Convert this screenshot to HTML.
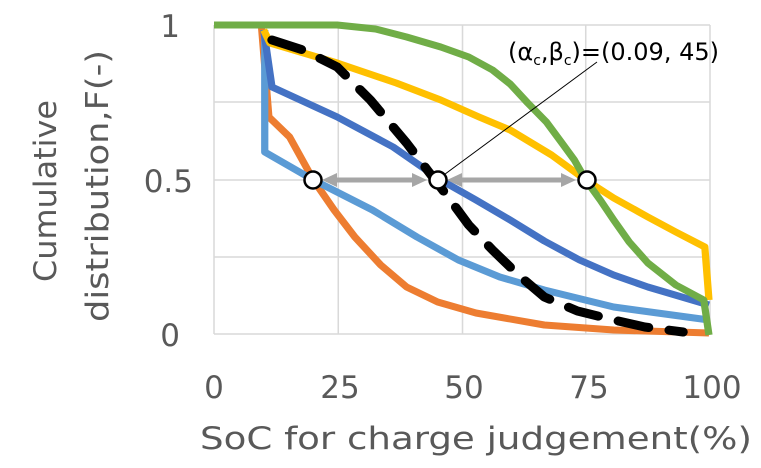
<!DOCTYPE html>
<html><head><style>body{margin:0;background:#fff}svg{display:block}text{font-family:"DejaVu Sans","Liberation Sans",sans-serif;fill:#595959}</style></head><body>
<svg width="761" height="468" viewBox="0 0 761 468">
<g transform="translate(214,0) scale(1.0355,1) translate(-214,0)">
<g stroke="#d9d9d9" stroke-width="1.5" fill="none">
<line x1="214" y1="25" x2="693" y2="25"/><line x1="214" y1="102" x2="693" y2="102"/><line x1="214" y1="180" x2="693" y2="180"/><line x1="214" y1="257" x2="693" y2="257"/><line x1="214" y1="334" x2="693" y2="334"/>
<line x1="214" y1="25" x2="214" y2="334"/><line x1="334" y1="25" x2="334" y2="334"/><line x1="454" y1="25" x2="454" y2="334"/><line x1="573" y1="25" x2="573" y2="334"/><line x1="693" y1="25" x2="693" y2="334"/>
</g>
<g fill="none" stroke-width="7" stroke-linejoin="round">
<polyline stroke="#ED7D31" points="260,28 267,117 287,137 310,180 330,210 350,237 375,265 400,287 430,302 467,313 533,325 600,330 692,333"/>
<polyline stroke="#5B9BD5" points="263,30 263,152 310,180 367,210 410,237 450,260 490,277 533,290 600,307 692,320"/>
<polyline stroke="#4472C4" points="262,30 270,87 333,117 387,147 433,180 467,200 500,220 533,241 567,260 600,275 633,287 692,305"/>
<polyline stroke="#FFC000" points="262,30 268,43 333,63 390,83 433,100 470,117 500,130 540,155 573,180 600,198 633,217 660,232 688,247 692,300"/>
<polyline stroke="#70AD47" points="214,25 333,25 370,29 400,37 433,47 460,57 483,70 500,84 517,103 535,122 550,143 562,160 573,180 587,200 600,220 615,242 633,263 660,285 687,300 692,335"/>
<polyline stroke="#000" stroke-width="9" stroke-dasharray="30,20" stroke-linecap="round" points="270,40 300,50 333,67 365,100 400,143 420,170 440,197 460,225 483,250 508,275 533,297 565,311 600,320 630,327 667,332"/>
</g>
</g>
<g stroke="#a6a6a6" stroke-width="5">
<line x1="332" y1="180" x2="416" y2="180"/><line x1="458" y1="180" x2="565" y2="180"/>
</g>
<g fill="#a6a6a6">
<polygon points="322,180 337,173 337,187"/><polygon points="427,180 412,173 412,187"/>
<polygon points="447,180 462,173 462,187"/><polygon points="576,180 561,173 561,187"/>
</g>
<line x1="437" y1="180" x2="597" y2="62" stroke="#000" stroke-width="1"/>
<g fill="#fff" stroke="#000" stroke-width="2.5">
<circle cx="313" cy="180" r="8.5"/><circle cx="438" cy="180" r="8.5"/><circle cx="587" cy="180" r="8.5"/>
</g>
<text x="508" y="60" font-size="24" style="fill:#000">(α<tspan font-size="14" dy="5">c</tspan><tspan dy="-5">,β</tspan><tspan font-size="14" dy="5">c</tspan><tspan dy="-5">)=(0.09, 45)</tspan></text>
<g font-size="31" text-anchor="end">
<text x="180" y="37">1</text><text x="193" y="192">0.5</text><text x="180" y="346">0</text>
</g>
<g font-size="31" text-anchor="middle">
<text x="214" y="398">0</text><text x="340" y="398">25</text><text x="464" y="398">50</text><text x="589" y="398">75</text><text x="712" y="398">100</text>
</g>
<text x="200" y="449" font-size="31" textLength="552" lengthAdjust="spacingAndGlyphs">SoC for charge judgement(%)</text>
<text transform="translate(56,282) rotate(-90)" font-size="31" textLength="182" lengthAdjust="spacingAndGlyphs">Cumulative</text>
<text transform="translate(108,322) rotate(-90)" font-size="31" textLength="272" lengthAdjust="spacingAndGlyphs">distribution,F(-)</text>
</svg>
</body></html>
